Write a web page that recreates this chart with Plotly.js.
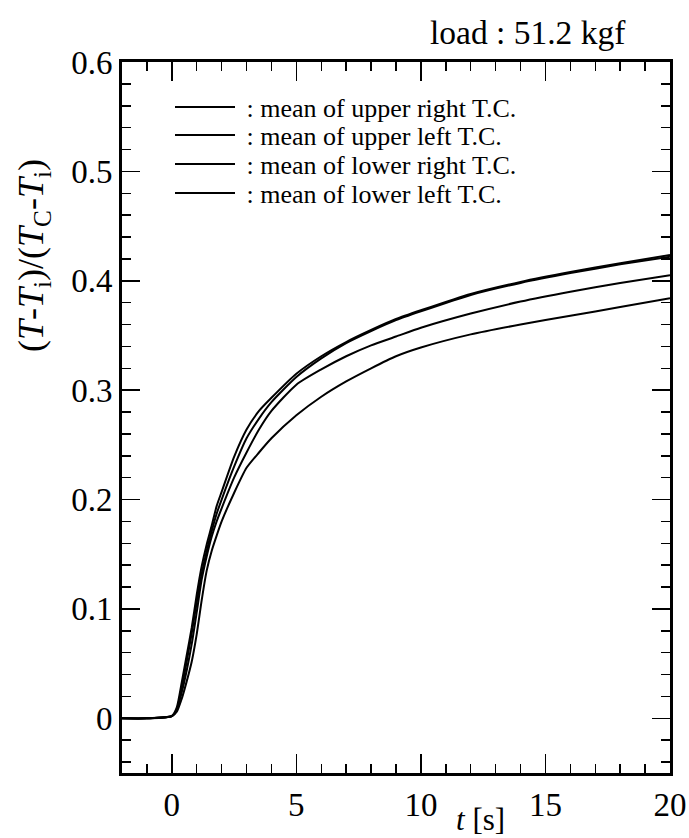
<!DOCTYPE html>
<html>
<head>
<meta charset="utf-8">
<script src="https://cdn.plot.ly/plotly-3.0.1.min.js"></script>
<style>
html,body{margin:0;padding:0;background:#fff;}
#chart{width:689px;height:838px;}
</style>
</head>
<body>
<div id="chart"></div>
<script>
// time [s]
var t = [-2, -1, 0, 0.2, 0.4, 0.6, 0.8, 1.0, 1.2, 1.4, 1.6, 1.8, 2.0, 2.5, 3, 3.5, 4, 5, 6, 7, 8, 9, 10, 12, 14, 16, 18, 20];
// mean of upper right T.C.
var upperRight = [0, 0, 0.002, 0.010, 0.033, 0.058, 0.083, 0.113, 0.139, 0.159, 0.176, 0.194, 0.207, 0.239, 0.264, 0.281, 0.293, 0.315, 0.331, 0.344, 0.355, 0.365, 0.373, 0.388, 0.399, 0.408, 0.416, 0.4235];
// mean of upper left T.C.
var upperLeft = [0, 0, 0.002, 0.008, 0.028, 0.052, 0.078, 0.106, 0.132, 0.153, 0.171, 0.187, 0.200, 0.230, 0.256, 0.274, 0.289, 0.312, 0.329, 0.343, 0.354, 0.364, 0.372, 0.387, 0.398, 0.407, 0.415, 0.422];
// mean of lower right T.C.
var lowerRight = [0, 0, 0.002, 0.008, 0.024, 0.044, 0.068, 0.097, 0.127, 0.148, 0.166, 0.180, 0.192, 0.220, 0.243, 0.264, 0.281, 0.305, 0.319, 0.331, 0.341, 0.349, 0.357, 0.370, 0.381, 0.390, 0.398, 0.405];
// mean of lower left T.C.
var lowerLeft = [0, 0, 0.002, 0.006, 0.018, 0.034, 0.052, 0.077, 0.108, 0.135, 0.153, 0.167, 0.180, 0.206, 0.229, 0.243, 0.256, 0.277, 0.294, 0.308, 0.320, 0.331, 0.339, 0.351, 0.360, 0.368, 0.376, 0.384];

var seriesNames = ['\u00a0: mean of upper right T.C.', '\u00a0: mean of upper left T.C.', '\u00a0: mean of lower right T.C.', '\u00a0: mean of lower left T.C.'];
var seriesValues = [upperRight, upperLeft, lowerRight, lowerLeft];
var legendIds = ['legend', 'legend2', 'legend3', 'legend4'];

var FONT = 'Liberation Serif, Times New Roman, serif';

var traces = seriesValues.map(function (v, i) {
  return {
    x: t, y: v, name: seriesNames[i], type: 'scatter', mode: 'lines',
    line: {color: '#000', width: 2, shape: 'spline', smoothing: 0.6},
    legend: legendIds[i]
  };
});

var legendRowY = [107, 135, 164, 193];
var plotTop = 62, plotBottom = 773;
function paperY(px) { return (plotBottom - px) / (plotBottom - plotTop); }
function paperX(px) { return (px - 122) / 548; }

var layout = {
  width: 689, height: 838,
  margin: {l: 122, r: 19, t: 62, b: 65},
  paper_bgcolor: '#fff', plot_bgcolor: '#fff',
  font: {family: FONT, color: '#000', size: 30},
  showlegend: true,
  xaxis: {
    range: [-2, 20], dtick: 5, tick0: 0,
    ticks: 'inside', ticklen: 19, tickwidth: 1.5, tickcolor: '#000',
    minor: {dtick: 1, ticks: 'inside', ticklen: 9, tickwidth: 1.5, tickcolor: '#000'},
    showline: true, linewidth: 3, linecolor: '#000', mirror: 'allticks',
    showgrid: false, zeroline: false,
    tickfont: {family: FONT, size: 33, color: '#000'}
  },
  yaxis: {
    range: [-0.05, 0.6], dtick: 0.1, tick0: 0,
    ticks: 'inside', ticklen: 18, tickwidth: 1.5, tickcolor: '#000',
    minor: {dtick: 0.02, ticks: 'inside', ticklen: 9, tickwidth: 1.5, tickcolor: '#000'},
    showline: true, linewidth: 3, linecolor: '#000', mirror: 'allticks',
    showgrid: false, zeroline: false,
    tickfont: {family: FONT, size: 33, color: '#000'}
  },
  annotations: [
    {text: 'load : 51.2 kgf', xref: 'paper', yref: 'paper', x: paperX(628), y: paperY(33),
     xanchor: 'right', yanchor: 'middle', showarrow: false, font: {family: FONT, size: 33.5, color: '#000'}},
    {text: '<i>t</i> [s]', xref: 'paper', yref: 'paper', x: paperX(480), y: paperY(819),
     xanchor: 'center', yanchor: 'middle', showarrow: false, font: {family: FONT, size: 31, color: '#000'}},
    {text: '(<i>T</i>-<i>T</i><sub>i</sub>)/(<i>T</i><sub>C</sub>-<i>T</i><sub>i</sub>)', xref: 'paper', yref: 'paper',
     x: paperX(33), y: paperY(256), textangle: -90,
     xanchor: 'center', yanchor: 'middle', showarrow: false, font: {family: FONT, size: 36, color: '#000'}}
  ]
};

legendIds.forEach(function (id, i) {
  layout[id] = {
    x: paperX(170), y: paperY(legendRowY[i]), xanchor: 'left', yanchor: 'middle',
    bgcolor: 'rgba(0,0,0,0)', borderwidth: 0, itemwidth: 60,
    font: {family: FONT, size: 26, color: '#000'}
  };
});

Plotly.newPlot('chart', traces, layout, {staticPlot: true});
</script>
</body>
</html>
